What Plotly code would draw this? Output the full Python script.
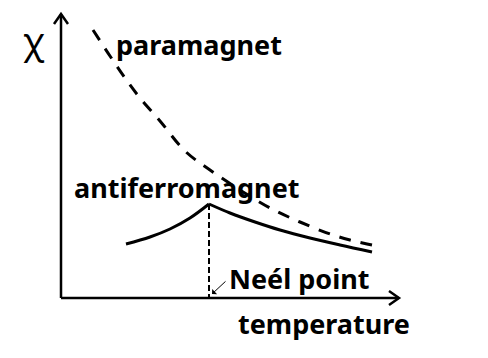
import plotly.graph_objects as go

# Coordinates in a pixel-like frame (x right, y down)
para_x = [93, 110, 125, 140, 160, 185, 210, 240, 270, 300, 330, 350, 372]
para_y = [30, 56, 78, 98, 121, 151, 170, 190, 208, 222, 234, 240, 245]

afm_left_x = [126, 150, 170, 190, 209]
afm_left_y = [244, 237, 229, 218, 204]
afm_right_x = [209, 230, 255, 280, 310, 340, 372]
afm_right_y = [204, 213, 222, 230, 238, 245, 252]

neel_x = [209, 209]
neel_y = [204, 298]

yaxis_x = [61, 61]
yaxis_y = [298, 14]
xaxis_x = [61, 399]
xaxis_y = [298, 298]
ytip_x = [54, 61, 68]
ytip_y = [24, 14, 24]
xtip_x = [389, 399, 389]
xtip_y = [291, 298, 305]

labels = ["χ", "paramagnet", "antiferromagnet", "Neél point", "temperature"]
label_x = [34, 199, 187, 299, 324]
label_y = [40, 44, 187, 278, 323]

fig = go.Figure()
line = dict(color="black", width=2.5)
fig.add_trace(go.Scatter(x=yaxis_x, y=yaxis_y, mode="lines", line=line))
fig.add_trace(go.Scatter(x=xaxis_x, y=xaxis_y, mode="lines", line=line))
fig.add_trace(go.Scatter(x=ytip_x, y=ytip_y, mode="lines", line=line))
fig.add_trace(go.Scatter(x=xtip_x, y=xtip_y, mode="lines", line=line))
fig.add_trace(go.Scatter(x=para_x, y=para_y, mode="lines", line_shape="spline",
                         line=dict(color="black", width=3, dash="12px,10px")))
fig.add_trace(go.Scatter(x=afm_left_x, y=afm_left_y, mode="lines", line_shape="spline",
                         line=dict(color="black", width=3)))
fig.add_trace(go.Scatter(x=afm_right_x, y=afm_right_y, mode="lines", line_shape="spline",
                         line=dict(color="black", width=3)))
fig.add_trace(go.Scatter(x=neel_x, y=neel_y, mode="lines",
                         line=dict(color="black", width=2, dash="6px,3px")))

fig.add_annotation(x=212, y=294, ax=227, ay=280, xref="x", yref="y", axref="x", ayref="y",
                   showarrow=True, arrowhead=1, arrowsize=1.2, arrowwidth=1, arrowcolor="black", text="")

sizes = [36, 27, 27, 27, 27]
for t, x, y, s in zip(labels, label_x, label_y, sizes):
    txt = t if t == "χ" else "<b>" + t + "</b>"
    fig.add_annotation(x=x, y=y, text=txt, showarrow=False, xref="x", yref="y",
                       font=dict(family="Noto Sans", size=s, color="black"))

fig.update_layout(
    width=488, height=358, margin=dict(l=0, r=0, t=0, b=0),
    plot_bgcolor="white", paper_bgcolor="white", showlegend=False,
    xaxis=dict(range=[0, 488], visible=False, fixedrange=True),
    yaxis=dict(range=[358, 0], visible=False, fixedrange=True),
)
fig.write_html("out.html")
